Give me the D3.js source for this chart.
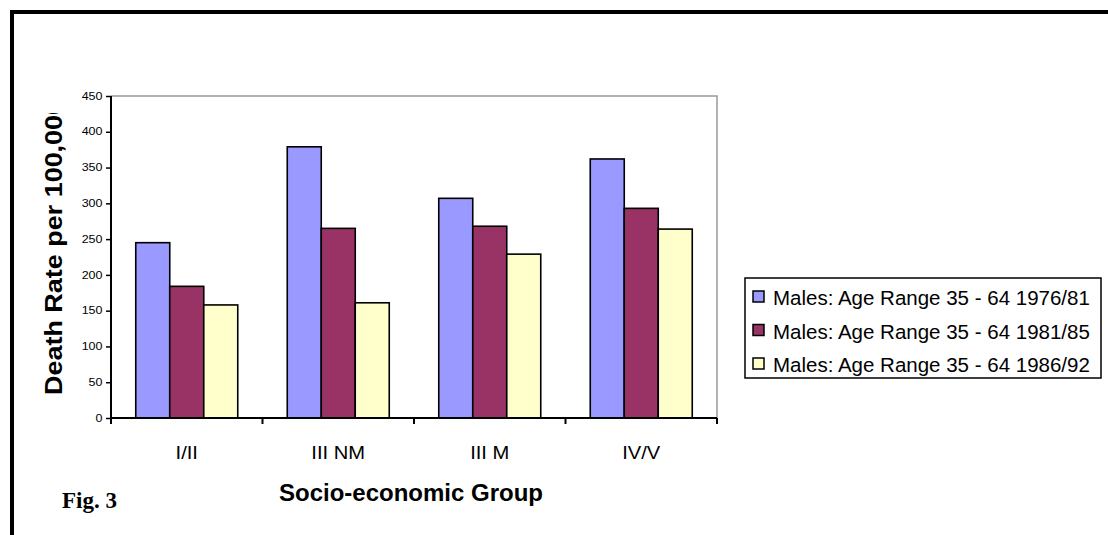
<!DOCTYPE html>
<html>
<head>
<meta charset="utf-8">
<script src="https://cdn.jsdelivr.net/npm/d3@7"></script>
<style>
  body { margin: 0; background: #fff; }
  svg { display: block; font-family: Arial, "Liberation Sans", sans-serif; }
</style>
</head>
<body>
<svg id="chart" width="1108" height="535"></svg>
<script>
// data
const groups = ['I/II', 'III NM', 'III M', 'IV/V'];
const seriesNames = [
  'Males: Age Range 35 - 64 1976/81',
  'Males: Age Range 35 - 64 1981/85',
  'Males: Age Range 35 - 64 1986/92'
];
const rates1976 = [245, 379, 307, 362];
const rates1981 = [184, 265, 268, 293];
const rates1986 = [158, 161, 229, 264];
const yTicks = [0, 50, 100, 150, 200, 250, 300, 350, 400, 450];
const colors = ['#9999FF', '#993366', '#FFFFCC'];

const series = [rates1976, rates1981, rates1986];
const svg = d3.select('#chart');

// outer frame (only top and left show in the crop)
svg.append('path').attr('d', 'M12,535 V12 H1108')
  .attr('fill', 'none').attr('stroke', '#000').attr('stroke-width', 4);

let plotL = 111, plotR = 717, plotT = 96, plotB = 418;

let x = d3.scaleBand().domain(groups).range([plotL, plotR]).paddingInner(0).paddingOuter(0);
let xs = d3.scaleBand().domain(d3.range(series.length)).range([0, x.bandwidth()]).paddingInner(0).paddingOuter(0.728);
let y = d3.scaleLinear().domain([0, 450]).range([plotB, plotT]);

// plot area border (grey, top + right)
svg.append('path').attr('d', `M${plotL},${plotT} H${plotR} V${plotB}`)
  .attr('fill', 'none').attr('stroke', '#999').attr('stroke-width', 1.5);

// bars
let g = svg.append('g');
groups.forEach(function (grp, i) {
  series.forEach(function (vals, s) {
    g.append('rect')
      .attr('x', x(grp) + xs(s))
      .attr('y', y(vals[i]))
      .attr('width', xs.bandwidth())
      .attr('height', y(0) - y(vals[i]))
      .attr('fill', colors[s])
      .attr('stroke', '#000').attr('stroke-width', 1.6);
  });
});

// y axis
let yAxis = svg.append('g').attr('transform', `translate(${plotL},0)`)
  .call(d3.axisLeft(y).tickValues(yTicks).tickSize(5).tickPadding(3));
yAxis.select('.domain').attr('stroke-width', 2).attr('d', `M0,${plotT}V${plotB}`);
yAxis.selectAll('.tick line').attr('stroke-width', 1.5);
yAxis.selectAll('text').attr('font-size', 10).attr('font-family', 'Arial, "Liberation Sans", sans-serif')
  .attr('x', -8.5 / 1.25).attr('transform', 'scale(1.25,1)');

// x axis
let xAxis = svg.append('g').attr('transform', `translate(0,${plotB})`)
  .call(d3.axisBottom(x).tickSize(0));
xAxis.select('.domain').attr('stroke-width', 2).attr('d', `M${plotL},0H${plotR}`);
xAxis.selectAll('text').attr('font-size', 18).attr('y', 41).attr('dy', null)
  .attr('transform', 'scale(1.12,1)');
// category separators below the axis
svg.append('g').selectAll('line').data(groups.concat(['end'])).enter().append('line')
  .attr('x1', (d, i) => plotL + i * x.bandwidth()).attr('x2', (d, i) => plotL + i * x.bandwidth())
  .attr('y1', plotB).attr('y2', plotB + 6)
  .attr('stroke', '#000').attr('stroke-width', 2);

// axis titles
svg.append('text').attr('x', 411).attr('y', 501).attr('text-anchor', 'middle')
  .attr('font-size', 24).attr('font-weight', 'bold').text('Socio-economic Group');

svg.append('clipPath').attr('id', 'ytclip').append('rect')
  .attr('x', 0).attr('y', 113).attr('width', 100).attr('height', 400);
svg.append('g').attr('clip-path', 'url(#ytclip)')
  .append('text').attr('transform', 'translate(62,395) rotate(-90) scale(1.1,1)')
  .attr('font-size', 24.5).attr('font-weight', 'bold').text('Death Rate per 100,000');

svg.append('text').attr('x', 62).attr('y', 508)
  .attr('font-family', '"Liberation Serif", "Times New Roman", serif')
  .attr('font-size', 23).attr('font-weight', 'bold').text('Fig. 3');

// legend
let lg = svg.append('g').attr('transform', 'translate(745,278)');
lg.append('rect').attr('width', 356).attr('height', 100)
  .attr('fill', '#fff').attr('stroke', '#000').attr('stroke-width', 1.5);
seriesNames.forEach(function (name, i) {
  let row = lg.append('g').attr('transform', `translate(8,${27 + i * 33.5})`);
  row.append('rect').attr('x', 0).attr('y', -14).attr('width', 11).attr('height', 11)
    .attr('fill', colors[i]).attr('stroke', '#000').attr('stroke-width', 1.5);
  row.append('text').attr('x', 20).attr('y', 0).attr('font-size', 20.5).text(name);
});
</script>
</body>
</html>
